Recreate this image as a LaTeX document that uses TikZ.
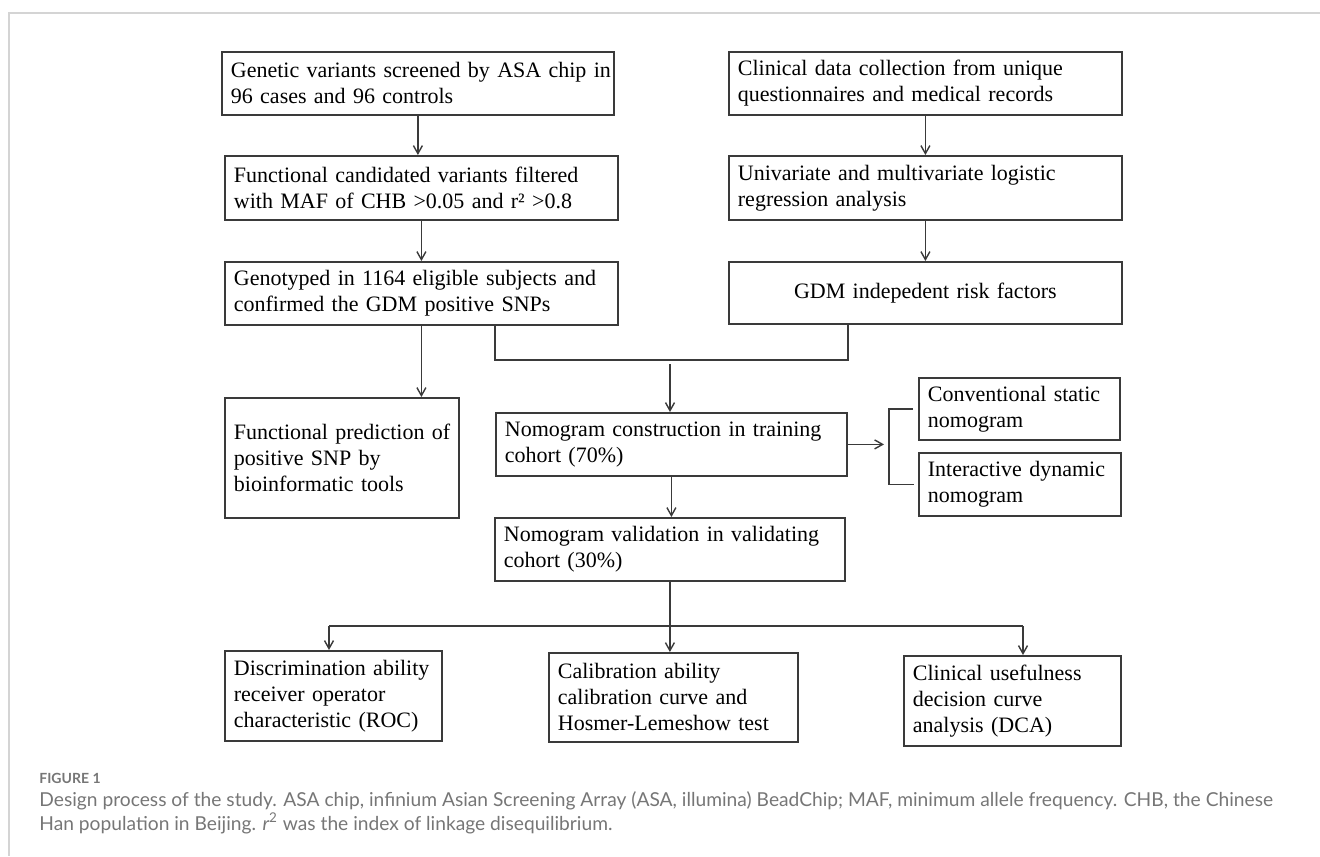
\documentclass[tikz,border=0pt]{standalone}
\usepackage{fontspec}
\setmainfont{Liberation Serif}
\newfontfamily\capfont{Lato}
\usepackage{tikz}
\usetikzlibrary{arrows.meta,calc,positioning}
\definecolor{boxGray}{HTML}{3A3A3A}
\definecolor{frameGray}{HTML}{D4D4D4}
\definecolor{captionGray}{HTML}{767676}

\begin{document}
\begin{tikzpicture}[x=0.5pt,y=-0.5pt,>={Straight Barb[length=4pt,width=4.5pt]},
    stepbox/.style={draw=boxGray,line width=0.9pt,anchor=north west,align=left,
      inner xsep=4.5pt,inner ysep=2pt,font=\fontsize{11}{13}\selectfont},
    link/.style={boxGray,line width=0.7pt}]
  \useasboundingbox (0,0) rectangle (1320,856);
  \draw[frameGray,line width=0.8pt] (1320,13) -- (9,13) -- (9,856);

  \node[stepbox,text width=187pt,minimum height=31.5pt] (G1) at (221,51)
    {\mbox{Genetic variants screened by ASA chip in}\\96 cases and 96 controls};
  \node[stepbox,text width=187.5pt,minimum height=32pt] (G2) at (224,155)
    {\mbox{Functional candidated variants filtered}\\with MAF of CHB >0.05 and r² >0.8};
  \node[stepbox,text width=187.5pt,minimum height=31.5pt] (G3) at (224,261)
    {\mbox{Genotyped in 1164 eligible subjects and}\\confirmed the GDM positive SNPs};
  \node[stepbox,text width=187.5pt,minimum height=31.5pt] (R1) at (728,51)
    {Clinical data collection from unique\\questionnaires and medical records};
  \node[stepbox,text width=187.5pt,minimum height=32pt] (R2) at (728,155)
    {Univariate and multivariate logistic\\regression analysis};
  \node[stepbox,text width=187.5pt,minimum height=31pt,align=center] (R3) at (728,261)
    {GDM indepedent risk factors};
  \node[stepbox,text width=108pt,minimum height=60pt] (FP) at (224,397)
    {\mbox{Functional prediction of}\\positive SNP by\\bioinformatic tools};
  \node[stepbox,text width=166.5pt,minimum height=31.5pt] (NC) at (495,412)
    {\mbox{Nomogram construction in training}\\cohort (70\%)};
  \node[stepbox,text width=166pt,minimum height=31.5pt] (NV) at (494,517)
    {\mbox{Nomogram validation in validating}\\cohort (30\%)};
  \node[stepbox,text width=91.5pt,minimum height=31pt] (CS) at (918,377)
    {\mbox{Conventional static}\\nomogram};
  \node[stepbox,text width=92pt,minimum height=31.5pt] (ID) at (918,452)
    {\mbox{Interactive dynamic}\\nomogram};
  \node[stepbox,text width=99.5pt,minimum height=45pt] (DA) at (224,650)
    {\mbox{Discrimination ability}\\receiver operator\\\mbox{characteristic (ROC)}};
  \node[stepbox,text width=115.5pt,minimum height=44.5pt] (CA) at (548,652)
    {Calibration ability\\calibration curve and\\\mbox{Hosmer-Lemeshow test}};
  \node[stepbox,text width=99.5pt,minimum height=45pt] (CU) at (903,655)
    {\mbox{Clinical usefulness}\\decision curve\\analysis (DCA)};

  \draw[link,->] (G1.south) -- (G1.south |- G2.north);
  \draw[link,->] (G2.south) -- (G2.south |- G3.north);
  \draw[link,->] (G3.south) -- (G3.south |- FP.north);
  \draw[link,->] (R1.south) -- (R1.south |- R2.north);
  \draw[link,->] (R2.south) -- (R2.south |- R3.north);

  \coordinate (join) at (670,360);
  \coordinate (joinfoot) at (670,364);
  \draw[link] (G3.south -| NC.west) |- (join) -| (NC.east |- R3.south);
  \draw[link,->] (joinfoot) -- (joinfoot |- NC.north);
  \draw[link,->] (NC.south) -- (NC.south |- NV.north);

  \coordinate (brk) at (889,443);
  \draw[link] ($(CS.west)+(-5,0)$) -| (brk) |- ($(ID.west)+(-4,0)$);
  \draw[link,->] (NC.east) -- ($(NC.east -| brk)+(-5,0)$);

  \coordinate (splitL) at (329,626);
  \coordinate (splitR) at (1023,626);
  \draw[link,->] (NV.south) -- (NV.south |- CA.north);
  \draw[link] (splitL) -- (splitR);
  \draw[link,->] (splitL) -- (splitL |- DA.north);
  \draw[link,->] (splitR) -- (splitR |- CU.north);

  \node[anchor=base west,inner sep=0,text=captionGray,
    font=\capfont\bfseries\fontsize{7}{8}\selectfont] (fig) at (39,783) {FIGURE 1};
  \node[anchor=base west,inner sep=0,text=captionGray,
    font=\capfont\fontsize{9.6}{11}\selectfont] (cap1) at (39,806)
    {Design process of the study. ASA chip, infinium Asian Screening Array (ASA, illumina) BeadChip; MAF, minimum allele frequency. CHB, the Chinese};
  \node[anchor=base west,inner sep=0,text=captionGray,
    font=\capfont\fontsize{9.6}{11}\selectfont] (cap2) at (39,830)
    {Han population in Beijing. {\itshape r}\textsuperscript{2} was the index of linkage disequilibrium.};
\end{tikzpicture}
\end{document}
